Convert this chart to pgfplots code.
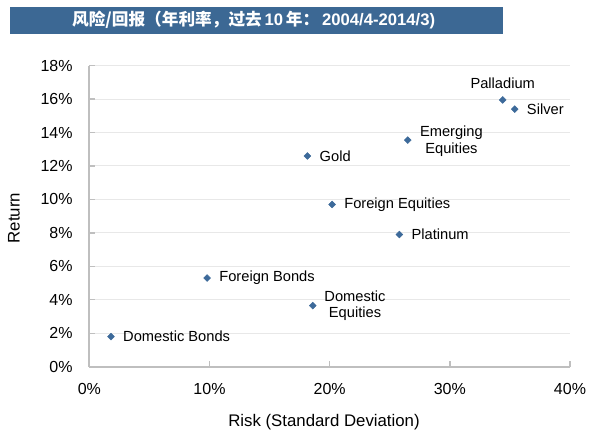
\documentclass[border=0pt]{standalone}
\usepackage{fontspec}
\setmainfont{Liberation Sans}
\newfontfamily\cjk{Noto Sans CJK SC}
\usepackage{pgfplots}
\pgfplotsset{compat=1.18}
\definecolor{markblue}{HTML}{3D6A9A}
\definecolor{barblue}{HTML}{3C6894}
\definecolor{axisgray}{HTML}{BFBFBF}
\definecolor{gridgray}{HTML}{E8E8E8}

\begin{document}
\begin{tikzpicture}
\useasboundingbox (-67pt,-48.2pt) rectangle (377pt,275pt);
% title bar
\fill[barblue] (-59.5pt,249.5pt) rectangle (310.3pt,269.8pt);
\node[text=white, font=\bfseries\fontsize{12.5}{14}\selectfont] at (123.2pt,259.7pt)
  {{\cjk\bfseries 风险/回报（年利率，过去}\,10\,{\cjk\bfseries 年：}\,2004/4-2014/3)};
\begin{axis}[
    scale only axis,
    width=360.5pt, height=225.75pt,
    xmin=0, xmax=40, ymin=0, ymax=18,
    xtick={0,10,...,40}, ytick={0,2,...,18},
    xticklabel={\pgfmathprintnumber{\tick}\%},
    yticklabel={\pgfmathprintnumber{\tick}\%},
    /pgf/number format/assume math mode=true,
    axis lines*=left,
    axis line style={axisgray, line width=1.5pt},
    tick align=inside,
    major tick length=4pt,
    tick style={axisgray, line width=1pt},
    ymajorgrids,
    grid style={gridgray, line width=0.75pt},
    ticklabel style={font=\fontsize{12}{14}\selectfont},
    y tick label style={xshift=-9pt},
    x tick label style={yshift=-9pt},
    clip=false,
]
\addplot[only marks, mark=square*, mark size=1.8pt,
    mark options={rotate=45, fill=markblue, draw=markblue}] coordinates {
    (1.8,1.8) (9.8,5.3) (18.6,3.65) (18.15,12.6) (20.2,9.7)
    (25.8,7.9) (26.5,13.55) (34.4,15.95) (35.4,15.4)
};
\begin{scope}[every node/.style={font=\fontsize{11}{12.5}\selectfont, inner sep=0pt}]
\node[anchor=west, xshift=9pt] at (axis cs:1.8,1.8) {Domestic Bonds};
\node[anchor=west, xshift=9pt] at (axis cs:9.8,5.3) {Foreign Bonds};
\node[anchor=west, xshift=8.5pt, align=center] at (axis cs:18.6,3.65) {Domestic\\Equities};
\node[anchor=west, xshift=9pt] at (axis cs:18.15,12.6) {Gold};
\node[anchor=west, xshift=9pt] at (axis cs:20.2,9.7) {Foreign Equities};
\node[anchor=west, xshift=9pt] at (axis cs:25.8,7.9) {Platinum};
\node[anchor=west, xshift=9pt, yshift=-0.75pt, align=center] at (axis cs:26.5,13.55) {Emerging\\Equities};
\node[yshift=12.75pt] at (axis cs:34.4,15.95) {Palladium};
\node[anchor=west, xshift=9pt] at (axis cs:35.4,15.4) {Silver};
\end{scope}
\end{axis}
\node[font=\fontsize{12.6}{14}\selectfont] at (176pt,-41.5pt) {Risk (Standard Deviation)};
\node[font=\fontsize{12.6}{14}\selectfont, rotate=90] at (-56.5pt,111.5pt) {Return};
\end{tikzpicture}
\end{document}
